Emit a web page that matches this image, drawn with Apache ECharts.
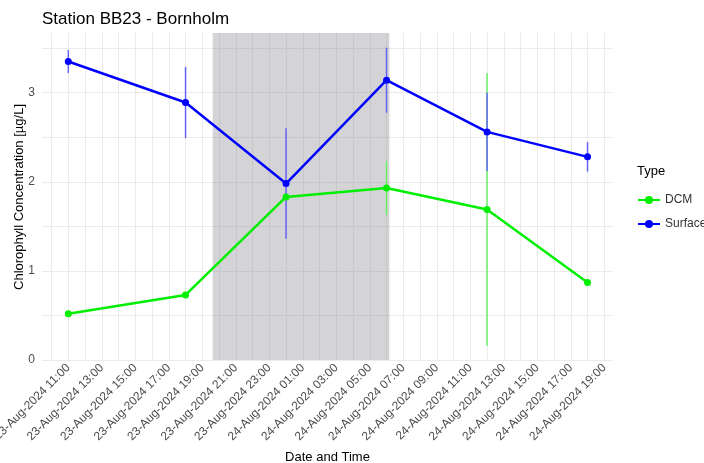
<!DOCTYPE html>
<html>
<head>
<meta charset="utf-8">
<script src="https://cdn.jsdelivr.net/npm/echarts@6/dist/echarts.min.js"></script>
<style>
html, body { margin: 0; padding: 0; background: #fff; }
#chart { width: 704px; height: 463px; }
</style>
</head>
<body>
<div id="chart"></div>
<script>
// x values are hours counted from 23-Aug-2024 00:00
const sampleHours = [11, 18, 24, 30, 36, 42];
const surfaceMean = [3.35, 2.89, 1.98, 3.14, 2.56, 2.28];
const surfaceErr = [0.13, 0.40, 0.62, 0.365, 0.44, 0.165];
const dcmMean = [0.52, 0.73, 1.83, 1.93, 1.69, 0.87];
const dcmErr = [0, 0, 0, 0.30, 1.53, 0];

// night period (shaded)
const nightStart = 19.62;
const nightEnd = 30.17;

const labelHours = [11, 13, 15, 17, 19, 21, 23, 25, 27, 29, 31, 33, 35, 37, 39, 41, 43];
const gridHours = [10, 11, 12, 13, 14, 15, 16, 17, 18, 19, 20, 21, 22, 23, 24, 25, 26,
    27, 28, 29, 30, 31, 32, 33, 34, 35, 36, 37, 38, 39, 40, 41, 42, 43];

const FONT = "Liberation Sans, Arial, sans-serif";

function pad(n)
{
    return (n < 10 ? "0" : "") + n;
}

function hourLabel(h)
{
    const day = 23 + Math.floor(h / 24);
    return day + "-Aug-2024 " + pad(h % 24) + ":00";
}

function pairs(xs, ys)
{
    return xs.map((x, i) => [x, ys[i]]);
}

function errRows(xs, m, e)
{
    return xs.map((x, i) => [x, m[i] - e[i], m[i] + e[i]]);
}

function errorBar(color)
{
    return function (params, api)
    {
        const lo = api.coord([api.value(0), api.value(1)]);
        const hi = api.coord([api.value(0), api.value(2)]);
        return {
            type: "line",
            shape: { x1: lo[0], y1: lo[1], x2: hi[0], y2: hi[1] },
            style: { stroke: color, lineWidth: 1.5 }
        };
    };
}

const chart = echarts.init(document.getElementById("chart"), null, { renderer: "canvas" });

chart.setOption({
    animation: false,
    backgroundColor: "#fff",
    textStyle: { fontFamily: FONT },
    title: {
        text: "Station BB23 - Bornholm",
        left: 37,
        top: 6,
        textStyle: { fontFamily: FONT, fontSize: 17, fontWeight: "normal", color: "#000" }
    },
    graphic: [
        {
            type: "text",
            left: 637,
            top: 165,
            style: { text: "Type", fontFamily: FONT, fontSize: 13, fill: "#000" }
        },
        {
            type: "text",
            x: 19,
            y: 197,
            rotation: Math.PI / 2,
            style: {
                text: "Chlorophyll Concentration [µg/L]",
                fontFamily: FONT,
                fontSize: 13,
                fill: "#000",
                align: "center",
                verticalAlign: "middle"
            }
        }
    ],
    legend: {
        data: ["DCM", "Surface"],
        orient: "vertical",
        left: 632,
        top: 189,
        itemWidth: 22,
        itemHeight: 10,
        itemGap: 12,
        textStyle: { fontFamily: FONT, fontSize: 12, color: "#333" }
    },
    grid: { left: 42, right: 91, top: 33, bottom: 103, outerBoundsMode: "none" },
    xAxis: {
        type: "value",
        min: 9.43,
        max: 43.52,
        axisLine: { show: false },
        axisTick: { show: false, customValues: gridHours },
        axisLabel: {
            customValues: labelHours,
            rotate: 45,
            margin: 6,
            color: "#4d4d4d",
            fontSize: 12,
            fontFamily: FONT,
            formatter: hourLabel
        },
        splitLine: { show: true, lineStyle: { color: "#ebebeb", width: 1 } },
        name: "Date and Time",
        nameLocation: "middle",
        nameGap: 91,
        nameTextStyle: { fontFamily: FONT, fontSize: 13, color: "#000" }
    },
    yAxis: {
        type: "value",
        min: 0,
        max: 3.67,
        interval: 0.5,
        axisLine: { show: false },
        axisTick: { show: false },
        axisLabel: {
            color: "#4d4d4d",
            fontSize: 12,
            fontFamily: FONT,
            margin: 7,
            formatter: v => (v % 1 === 0 ? String(v) : "")
        },
        splitLine: { show: true, showMaxLine: false, lineStyle: { color: "#ebebeb", width: 1 } }
    },
    series: [
        {
            name: "night",
            type: "line",
            data: [],
            silent: true,
            markArea: {
                silent: true,
                itemStyle: { color: "rgba(128,130,135,0.34)" },
                data: [[{ xAxis: nightStart }, { xAxis: nightEnd }]]
            }
        },
        {
            name: "DCM err",
            type: "custom",
            renderItem: errorBar("rgb(105,240,105)"),
            data: errRows(sampleHours, dcmMean, dcmErr),
            silent: true,
            z: 3
        },
        {
            name: "Surface err",
            type: "custom",
            renderItem: errorBar("rgb(100,100,250)"),
            data: errRows(sampleHours, surfaceMean, surfaceErr),
            silent: true,
            z: 3
        },
        {
            name: "DCM",
            type: "line",
            data: pairs(sampleHours, dcmMean),
            symbol: "circle",
            symbolSize: 7,
            color: "#00ee00",
            lineStyle: { color: "#00ee00", width: 2.5 },
            itemStyle: { color: "#00ee00" },
            z: 5
        },
        {
            name: "Surface",
            type: "line",
            data: pairs(sampleHours, surfaceMean),
            symbol: "circle",
            symbolSize: 7,
            color: "#0000ff",
            lineStyle: { color: "#0000ff", width: 2.5 },
            itemStyle: { color: "#0000ff" },
            z: 5
        }
    ]
});
</script>
</body>
</html>
